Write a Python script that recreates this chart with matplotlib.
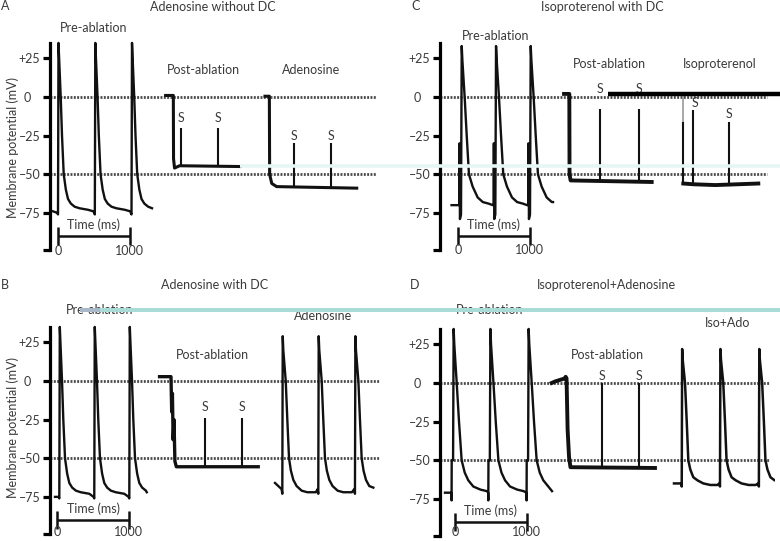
import matplotlib
matplotlib.use('Agg')
import matplotlib.pyplot as plt
from matplotlib.lines import Line2D

plt.rcParams['font.family'] = ['Lato', 'DejaVu Sans']

W, H = 780, 541
PX_MS = 0.0715     # pixels per ms
PX_MV = 1.545      # pixels per mV
YLIM = (-102, 42)
AX_W = 335
TXT = '#3a3a3a'
FS = 9

# ---------------- data ----------------
ytick_vals = [25, 0, -25, -50, -75, -99]
ytick_labels = ['+25', '0', '\u201325', '\u201350', '\u201375', '']
time_bar = [0, 1000]
time_labels = ['0', '1000']

# action-potential shapes (ms after upstroke, mV)
tmplA_t = [-10, 0, 7, 14, 38, 56, 80, 110, 140, 180, 233, 300, 420, 495]
tmplA_v = [-75, -76, 35, 27, 0, -25, -50, -60, -66, -69, -71, -72, -73, -74]
tmplC_t = [-30, -27, -24, -20, -5, 5, 14, 46, 75, 106, 158, 228, 300, 380, 440]
tmplC_v = [-70, -30, -30, -79, -76, 33, 24, 0, -25, -50, -58, -65, -68, -69, -70]
tmplD_t = [-26, -24, -22, -3, 5, 14, 48, 80, 117, 160, 210, 280, 380, 470]
tmplD_v = [-71, -76, -50, -50, 35, 25, 0, -25, -50, -58, -63, -67, -69, -70]
tmplBado_t = [-10, 0, 6, 14, 48, 70, 94, 120, 154, 200, 271, 350, 470]
tmplBado_v = [-70, -73, 29, 20, 0, -25, -50, -58, -64, -68, -71, -72, -72]
tmplDiso_t = [-10, 0, 6, 14, 46, 70, 92, 120, 162, 220, 302, 400, 500]
tmplDiso_v = [-65, -67, 22, 15, 0, -25, -50, -56, -61, -63, -65, -66, -66]

# Panel A: Adenosine without DC
a_pre_onsets = [0, 515, 1028]
a_pre_start, a_pre_end = (-70, -74), (1315, -72)
a_post_t = [1505, 1613, 1616, 1630, 1700, 2545]
a_post_v = [1, 1, -40, -46, -44.5, -45]
a_post_s_t = [1716, 2242]
a_post_s_peak = [-20, -20]
a_post_s_lab = [-13.6, -13.6]
a_ado_t = [2895, 2956, 2960, 2990, 3058, 4178]
a_ado_v = [0.5, 0.5, -50, -56, -58, -59]
a_ado_s_t = [3301, 3814]
a_ado_s_peak = [-30, -30]
a_ado_s_lab = [-25, -25]

# Panel C: Isoproterenol with DC
c_pre_onsets = [47, 527, 1012]
c_pre_start, c_pre_end = (-90, -70), (1329, -68)
c_post_t = [1483, 1557, 1560, 1575, 2709]
c_post_v = [2, 2, -50, -54, -55]
c_post_s_t = [1993, 2536]
c_post_s_peak = [-7.5, -7.5]
c_post_s_lab_t = [1993, 2536]
c_post_s_lab = [5, 5]
c_iso_drop_t = [3128, 3151, 3151]
c_iso_drop_v = [1, 1, -56]
c_iso_t = [3151, 3300, 3600, 4200]
c_iso_v = [-56, -56.5, -57, -56]
c_iso_s_t = [3151, 3291, 3795]
c_iso_s_peak = [-16, -8.5, -16]
c_iso_s_lab_t = [3315, 3795]
c_iso_s_lab = [-4, -11]

# Panel B: Adenosine with DC
b_pre_onsets = [28, 517, 1007]
b_pre_start, b_pre_end = (-32, -75), (1251, -72)
b_post_t = [1430, 1590, 1600, 1610, 1620, 1632, 1645, 1665, 2810]
b_post_v = [2.8, 2.8, -20, -8, -38, -25, -52, -55.5, -55.5]
b_post_s_t = [2066, 2587]
b_post_s_peak = [-24, -24]
b_post_s_lab = [-16.8, -16.8]
b_ado_onsets = [3147, 3650, 4163]
b_ado_start, b_ado_end = (3045, -66), (4420, -69)

# Panel D: Isoproterenol+Adenosine
d_pre_onsets = [-24, 490, 1025]
d_pre_start, d_pre_end = (-140, -71), (1357, -70)
d_post_t = [1352, 1400, 1538, 1548, 1560, 1575, 1595, 1615, 2797]
d_post_v = [0, 1, 3, 4, 3, -30, -48, -54.5, -55]
d_post_s_t = [2051, 2578]
d_post_s_peak = [0, 0]
d_post_s_lab = [4.5, 4.5]
d_iso_onsets = [3171, 3706, 4250]
d_iso_start, d_iso_end = (3063, -65), (4522, -63)


def build_trace(onsets, tt, vv, start, end):
    xs, ys = [start[0]], [start[1]]
    for i, on in enumerate(onsets):
        lim = onsets[i + 1] + tt[0] if i + 1 < len(onsets) else end[0]
        for t, v in zip(tt, vv):
            if on + t < lim:
                xs.append(on + t)
                ys.append(v)
    xs.append(end[0])
    ys.append(end[1])
    return xs, ys


fig = plt.figure(figsize=(W / 100, H / 100), dpi=100)
fig.patch.set_facecolor('white')


def make_axes(spine_x, zero_x, zero_y):
    h_px = (YLIM[1] - YLIM[0]) * PX_MV
    top_px = zero_y - YLIM[1] * PX_MV
    ax = fig.add_axes([spine_x / W, (H - top_px - h_px) / H, AX_W / W, h_px / H])
    x0 = (spine_x - zero_x) / PX_MS
    ax.set_xlim(x0, x0 + AX_W / PX_MS)
    ax.set_ylim(*YLIM)
    for s in ['top', 'right', 'bottom']:
        ax.spines[s].set_visible(False)
    ax.spines['left'].set_bounds(-99, 35)
    ax.spines['left'].set_linewidth(2.3)
    ax.set_xticks([])
    ax.set_yticks(ytick_vals, ytick_labels)
    ax.tick_params(axis='y', length=5, width=2.3, pad=2, labelsize=FS, labelcolor=TXT)
    zt = ax.yaxis.get_major_ticks()[1]
    zt.tick1line.set_markersize(12)
    zt.set_pad(9)
    ax.patch.set_alpha(0)
    return ax


def dotted(ax, x0, x1):
    ax.hlines([0, -50], x0, x1, colors='#4a4a4a', linestyles=(0, (0.7, 0.5)), lw=2.0)


def timebar(ax, lab_y):
    ax.plot(time_bar, [-90, -90], color='#111', lw=1.8, solid_capstyle='butt')
    ax.vlines(time_bar, -84, -96, color='#111', lw=1.8)
    ax.text(sum(time_bar) / 2, -82.5, 'Time (ms)', ha='center', va='center', fontsize=FS, color=TXT)
    for x, lab in zip(time_bar, time_labels):
        ax.text(x, lab_y, lab, ha='center', va='center', fontsize=FS, color=TXT)


def stims(ax, ts, peaks, base, lab_t, lab_y, lw=1.5):
    ax.vlines(ts, base, peaks, color='#111', lw=lw)
    for x, y in zip(lab_t, lab_y):
        ax.text(x, y, 'S', ha='center', va='center', fontsize=FS, color=TXT)


def label(ax, x, y, s):
    ax.text(x, y, s, ha='center', va='center', fontsize=FS, color=TXT)


# ---- Panel A ----
axA = make_axes(50, 58, 97)
dotted(axA, -112, 4448)
axA.plot(*build_trace(a_pre_onsets, tmplA_t, tmplA_v, a_pre_start, a_pre_end), color='#111', lw=1.7)
axA.plot(a_post_t, a_post_v, color='#111', lw=2.2)
stims(axA, a_post_s_t, a_post_s_peak, -45, a_post_s_t, a_post_s_lab)
axA.plot(a_ado_t, a_ado_v, color='#111', lw=2.2)
stims(axA, a_ado_s_t, a_ado_s_peak, -59, a_ado_s_t, a_ado_s_lab)
timebar(axA, -99.5)
label(axA, 500, 44.7, 'Pre-ablation')
label(axA, 2028, 17.5, 'Post-ablation')
label(axA, 3538, 17.5, 'Adenosine')

# ---- Panel C ----
axC = make_axes(440, 458, 97)
dotted(axC, -252, 4322)
axC.plot(*build_trace(c_pre_onsets, tmplC_t, tmplC_v, c_pre_start, c_pre_end), color='#111', lw=1.7)
axC.plot(c_post_t, c_post_v, color='#111', lw=2.8)
stims(axC, c_post_s_t, c_post_s_peak, -54, c_post_s_lab_t, c_post_s_lab)
axC.plot(c_iso_drop_t, c_iso_drop_v, color='#999', lw=1.2)
axC.plot(c_iso_t, c_iso_v, color='#111', lw=2.8)
stims(axC, c_iso_s_t, c_iso_s_peak, -56, c_iso_s_lab_t, c_iso_s_lab)
timebar(axC, -99)
label(axC, 531, 39.5, 'Pre-ablation')
label(axC, 2112, 21.4, 'Post-ablation')
label(axC, 3664, 21.4, 'Isoproterenol')

# ---- Panel B ----
axB = make_axes(50, 57.3, 381)
dotted(axB, -102, 4514)
axB.plot(*build_trace(b_pre_onsets, tmplA_t, tmplA_v, b_pre_start, b_pre_end), color='#111', lw=1.7)
axB.plot(b_post_t, b_post_v, color='#111', lw=2.4)
stims(axB, b_post_s_t, b_post_s_peak, -55, b_post_s_t, b_post_s_lab)
axB.plot(*build_trace(b_ado_onsets, tmplBado_t, tmplBado_v, b_ado_start, b_ado_end), color='#111', lw=1.7)
timebar(axB, -97.5)
label(axB, 597, 46, 'Pre-ablation')
label(axB, 2164, 16.8, 'Post-ablation')
label(axB, 3717, 42, 'Adenosine')

# ---- Panel D ----
axD = make_axes(440, 455, 383)
dotted(axD, -210, 4406)
axD.plot(*build_trace(d_pre_onsets, tmplD_t, tmplD_v, d_pre_start, d_pre_end), color='#111', lw=1.7)
axD.plot(d_post_t, d_post_v, color='#111', lw=2.8)
stims(axD, d_post_s_t, d_post_s_peak, -54, d_post_s_t, d_post_s_lab)
axD.plot(*build_trace(d_iso_onsets, tmplDiso_t, tmplDiso_v, d_iso_start, d_iso_end), color='#111', lw=1.8)
timebar(axD, -96.5)
label(axD, 490, 47, 'Pre-ablation')
label(axD, 2126, 18, 'Post-ablation')
label(axD, 3818, 38.8, 'Iso+Ado')

# ---- panel letters, titles, axis labels ----
def ftext(x, y, s, **kw):
    fig.text(x / W, 1 - y / H, s, fontsize=FS, color=TXT, va='center', **kw)

ftext(1, 6, 'A', ha='left')
ftext(411, 6, 'C', ha='left')
ftext(1, 285, 'B', ha='left')
ftext(410, 285, 'D', ha='left')
ftext(213, 7, 'Adenosine without DC', ha='center')
ftext(602, 7, 'Isoproterenol with DC', ha='center')
ftext(215, 285, 'Adenosine with DC', ha='center')
ftext(606, 285, 'Isoproterenol+Adenosine', ha='center')
ftext(13, 147, 'Membrane potential (mV)', ha='center', rotation=90)
ftext(13, 428, 'Membrane potential (mV)', ha='center', rotation=90)

# ---- overlay streaks present in the source image ----
def streak(x0, x1, y, lw, color):
    fig.add_artist(Line2D([x0 / W, x1 / W], [1 - y / H, 1 - y / H], transform=fig.transFigure,
                          lw=lw, color=color, solid_capstyle='butt', zorder=10))

streak(240, 780, 165.5, 2.6, '#e6f6f2')
streak(80, 100, 310, 2.9, '#a9b9c9')
streak(100, 780, 310, 2.9, '#a9dcd6')
streak(608, 780, 93.5, 3.2, '#000000')

fig.savefig('out.png', dpi=100, facecolor='white')
